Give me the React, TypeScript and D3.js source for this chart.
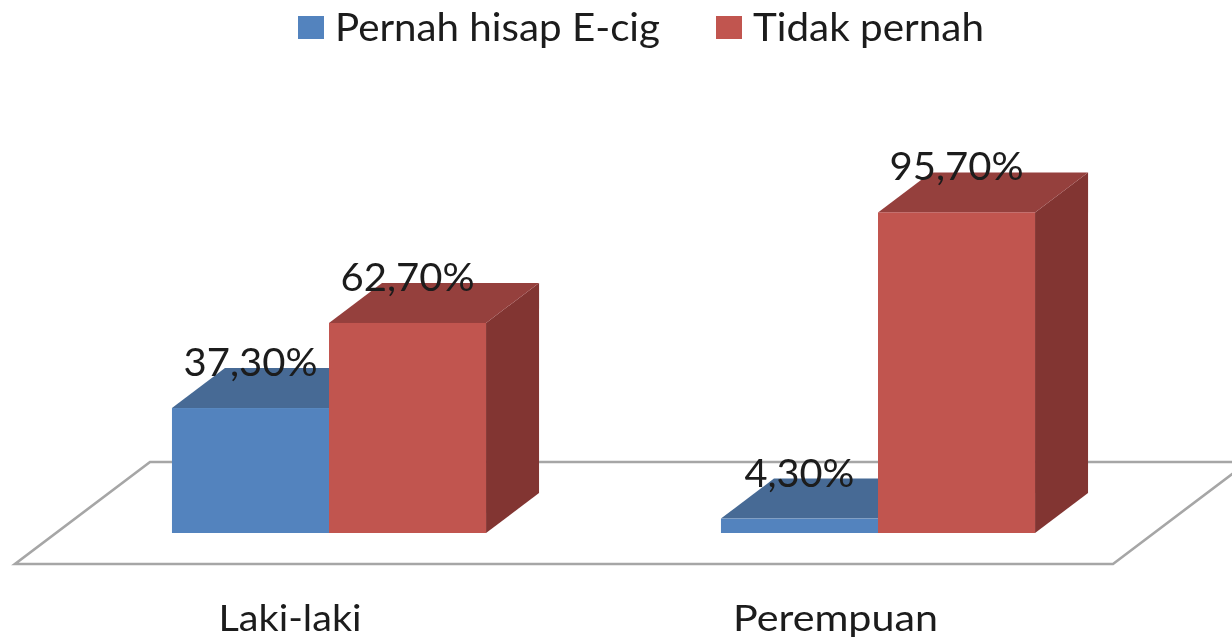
import React from "react";
import * as d3 from "d3";

const categories = ["Laki-laki", "Perempuan"];
const seriesNames = ["Pernah hisap E-cig", "Tidak pernah"];
const pernahValues = [37.3, 4.3];
const tidakValues = [62.7, 95.7];
const valueLabels = [["37,30%", "4,30%"], ["62,70%", "95,70%"]];
const frontColors = ["#5283BE", "#C15550"];
const topColors = ["#466A95", "#953F3D"];
const sideColors = ["#3A5A80", "#823432"];

const W = 1232, H = 640;
const FONT = "Lato, 'Open Sans', sans-serif";
const depthX = 53, depthY = -40;

const x0 = d3.scaleBand<string>().domain(categories).range([54.5, 1152.5]);
const x1 = d3.scaleBand<string>().domain(seriesNames).range([0, x0.step()]).paddingInner(0).paddingOuter(0.748);
const y = d3.scaleLinear().domain([0, 100]).range([533, 198]);

const seriesValues = [pernahValues, tidakValues];
const poly = (pts: [number, number][]) => d3.line()(pts) + "Z";

export default function App() {
  const bw = x1.bandwidth();
  return (
    <svg width={W} height={H} viewBox={`0 0 ${W} ${H}`}
      style={{ position: "absolute", left: 0, top: 0, background: "#fff" }}>
      <defs>
        <filter id="soft" x="-5%" y="-20%" width="110%" height="140%">
          <feGaussianBlur stdDeviation="0.7" />
        </filter>
      </defs>
      <g filter="url(#soft)">
        {/* floor */}
        <path d={poly([[15, 564], [1113, 564], [1248, 462], [150, 462]])}
          fill="#fff" stroke="#A6A6A6" strokeWidth={2.6} />
        {/* bars */}
        {categories.map((c, ci) =>
          seriesNames.map((s, si) => {
            const xl = x0(c)! + x1(s)!;
            const xr = xl + bw;
            const yt = y(seriesValues[si][ci]);
            const yb = y(0);
            return (
              <g key={c + s}>
                <path d={poly([[xr, yb], [xr + depthX, yb + depthY], [xr + depthX, yt + depthY], [xr, yt]])} fill={sideColors[si]} />
                <path d={poly([[xl, yt], [xr, yt], [xr + depthX, yt + depthY], [xl + depthX, yt + depthY]])} fill={topColors[si]} />
                <rect x={xl} y={yt} width={bw} height={yb - yt} fill={frontColors[si]} />
              </g>
            );
          })
        )}
        {/* data labels */}
        {categories.map((c, ci) =>
          seriesNames.map((s, si) => (
            <text key={c + s} x={x0(c)! + x1(s)! + bw / 2} y={y(seriesValues[si][ci]) - 32}
              textAnchor="middle" fontFamily={FONT} fontSize={39} fill="#1a1a1a"
              textLength={valueLabels[si][ci].length === 5 ? 110 : 134} lengthAdjust="spacingAndGlyphs">
              {valueLabels[si][ci]}
            </text>
          ))
        )}
        {/* category labels */}
        {categories.map((c, ci) => (
          <text key={c} x={ci === 0 ? 290 : 835.5} y={631} textAnchor="middle"
            fontFamily={FONT} fontSize={37} fill="#1a1a1a"
            textLength={ci === 0 ? 143 : 205} lengthAdjust="spacingAndGlyphs">{c}</text>
        ))}
        {/* legend */}
        {seriesNames.map((s, si) => {
          const lx = [298, 716][si];
          return (
            <g key={s}>
              <rect x={lx} y={16} width={26} height={23} fill={frontColors[si]} />
              <text x={[335, 753][si]} y={41} fontFamily={FONT} fontSize={39} fill="#1a1a1a"
                textLength={[325, 231][si]} lengthAdjust="spacingAndGlyphs">{s}</text>
            </g>
          );
        })}
      </g>
    </svg>
  );
}
